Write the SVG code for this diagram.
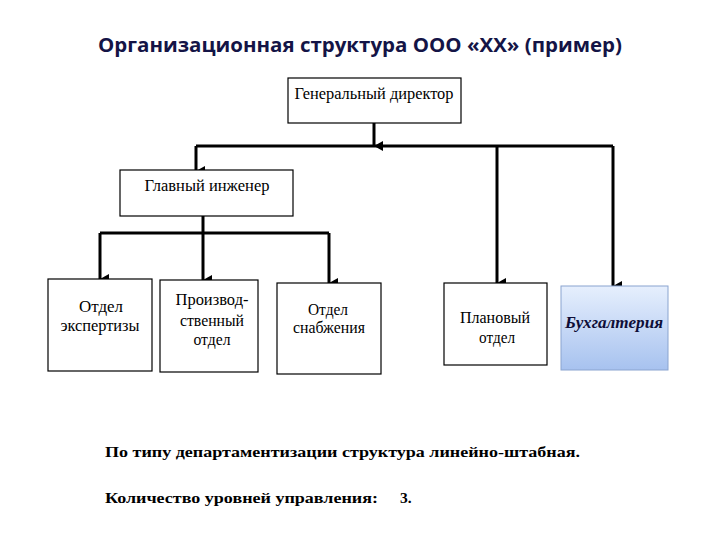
<svg xmlns="http://www.w3.org/2000/svg" width="720" height="540" viewBox="0 0 720 540">
<style>
.box{fill:#fff;stroke:#000;stroke-width:1.2}
.t{font-family:"Times New Roman","Liberation Serif","DejaVu Serif",serif;font-size:16px;fill:#000;text-anchor:middle}
.c{fill:none;stroke:#000;stroke-width:3}
.title{font-family:"Open Sans","Liberation Sans",sans-serif;font-weight:bold;font-size:20px;fill:#141446;text-anchor:middle}
.note{font-family:"Times New Roman","Liberation Serif","DejaVu Serif",serif;font-weight:bold;font-size:15.5px;fill:#000}
</style>
<defs>
<marker id="ah" markerUnits="userSpaceOnUse" markerWidth="12" markerHeight="12" viewBox="0 0 12 12" refX="6" refY="11" orient="auto-start-reverse">
<path d="M1,2 L11,2 L6,11 Z" fill="#000"/>
</marker>
<linearGradient id="bg" x1="0" y1="0" x2="0" y2="1">
<stop offset="0" stop-color="#e6effd"/>
<stop offset="1" stop-color="#a7c2ef"/>
</linearGradient>
</defs>
<rect width="720" height="540" fill="#fff"/>
<text class="title" x="360" y="52" textLength="524" lengthAdjust="spacingAndGlyphs">Организационная структура ООО «ХХ» (пример)</text>
<g id="connectors">
<path class="c" d="M374,123 V146" marker-end="url(#ah)"/>
<path class="c" d="M196,146 H613"/>
<path class="c" d="M196,146 V171" marker-end="url(#ah)"/>
<path class="c" d="M497,146 V283" marker-end="url(#ah)"/>
<path class="c" d="M613,146 V286" marker-end="url(#ah)"/>
<path class="c" d="M203,216 V233"/>
<path class="c" d="M100,233 H329"/>
<path class="c" d="M100,233 V279" marker-end="url(#ah)"/>
<path class="c" d="M203,233 V280" marker-end="url(#ah)"/>
<path class="c" d="M329,233 V283" marker-end="url(#ah)"/>
</g>
<g id="gen-director">
<rect class="box" x="288" y="78" width="173" height="45"/>
<text class="t" x="374" y="99" textLength="159" lengthAdjust="spacingAndGlyphs">Генеральный директор</text>
</g>
<g id="chief-engineer">
<rect class="box" x="120" y="170" width="173" height="46"/>
<text class="t" x="207" y="191" textLength="125" lengthAdjust="spacingAndGlyphs">Главный инженер</text>
</g>
<g id="expertise">
<rect class="box" x="48" y="279" width="104" height="92"/>
<text class="t" x="101" y="312" textLength="44" lengthAdjust="spacingAndGlyphs">Отдел</text>
<text class="t" x="100" y="331" textLength="79" lengthAdjust="spacingAndGlyphs">экспертизы</text>
</g>
<g id="production">
<rect class="box" x="160" y="280" width="98" height="92"/>
<text class="t" x="212" y="305" textLength="73" lengthAdjust="spacingAndGlyphs">Производ-</text>
<text class="t" x="212" y="326" textLength="64" lengthAdjust="spacingAndGlyphs">ственный</text>
<text class="t" x="212" y="345" textLength="37" lengthAdjust="spacingAndGlyphs">отдел</text>
</g>
<g id="supply">
<rect class="box" x="277" y="283" width="104" height="91"/>
<text class="t" x="328" y="315" textLength="40" lengthAdjust="spacingAndGlyphs">Отдел</text>
<text class="t" x="329" y="333" textLength="72" lengthAdjust="spacingAndGlyphs">снабжения</text>
</g>
<g id="planning">
<rect class="box" x="444" y="283" width="103" height="82"/>
<text class="t" x="495" y="323" textLength="70" lengthAdjust="spacingAndGlyphs">Плановый</text>
<text class="t" x="497" y="343" textLength="36" lengthAdjust="spacingAndGlyphs">отдел</text>
</g>
<g id="accounting">
<rect x="561" y="286" width="107" height="84" fill="url(#bg)" stroke="#8aa4cf" stroke-width="1"/>
<text class="t" x="614" y="328" textLength="98" lengthAdjust="spacingAndGlyphs" style="font-weight:bold;font-style:italic;fill:#0e0e38">Бухгалтерия</text>
</g>
<text class="note" x="105" y="457" textLength="475" lengthAdjust="spacingAndGlyphs">По типу департаментизации структура линейно-штабная.</text>
<text class="note" x="105" y="503" textLength="273" lengthAdjust="spacingAndGlyphs">Количество уровней управления:</text>
<text class="note" x="400" y="503">3.</text>
</svg>
